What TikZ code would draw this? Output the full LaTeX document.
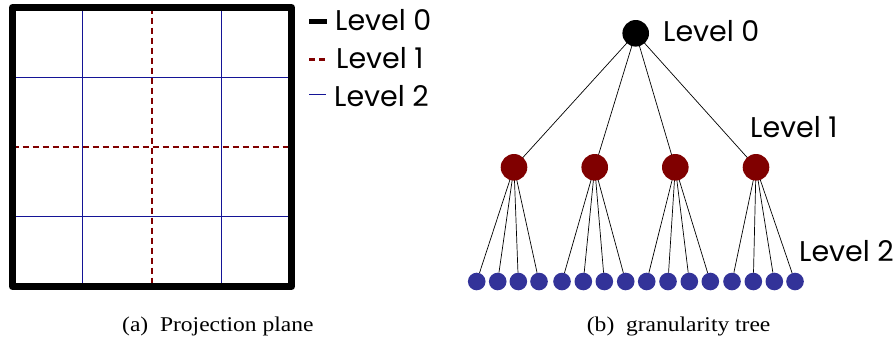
\documentclass[tikz,border=0pt]{standalone}
\usepackage{graphicx}
\usepackage{fontspec}
\setmainfont{Liberation Serif}
\newfontfamily\labelfont{Poppins}
\definecolor{lvlred}{RGB}{128,0,0}
\definecolor{lvlblue}{RGB}{20,20,150}
\definecolor{leafblue}{RGB}{51,51,153}
\newcommand{\captxt}[1]{\scalebox{1.12}[1]{#1}}
\begin{document}
\begin{tikzpicture}[x=1pt,y=-1pt,
  border/.style={line width=7pt,line join=round},
  redgrid/.style={lvlred,line width=2.6pt,dash pattern=on 6pt off 4pt},
  bluegrid/.style={lvlblue,line width=0.9pt},
  lvltext/.style={font=\labelfont\fontsize{28.5}{28.5}\selectfont,anchor=base west,inner sep=0pt},
  captext/.style={font=\fontsize{21}{21}\selectfont,anchor=base west,inner sep=0pt},
  rootnode/.style={circle,fill=black,minimum size=26.6pt,inner sep=0pt},
  midnode/.style={circle,fill=lvlred,minimum size=26.6pt,inner sep=0pt},
  leafnode/.style={circle,fill=leafblue,minimum size=17.6pt,inner sep=0pt},
  edge/.style={black,line width=0.7pt}]
\useasboundingbox (0,0) rectangle (896,338);

% ---- projection plane ----
\foreach \t in {82.25,221.75}{
  \draw[bluegrid] (\t,7.5) -- (\t,286.5);
  \draw[bluegrid] (12.5,\t-5) -- (291.5,\t-5);
}
\draw[redgrid] (152,7.5) -- (152,286.5);
\draw[redgrid] (12.5,147) -- (291.5,147);
\draw[border] (12.5,7.5) rectangle (291.5,286.5);

% ---- legend ----
\coordinate (k0a) at (309,21.3);  \coordinate (k0b) at (327,21.3);
\coordinate (k1a) at (309,59.3);  \coordinate (k1b) at (325,59.3);
\coordinate (k2a) at (309,94.3);  \coordinate (k2b) at (326,94.3);
\draw[line width=5pt] (k0a) -- (k0b);
\draw[lvlred,line width=2.6pt,dash pattern=on 6pt off 4pt] (k1a) -- (k1b);
\draw[lvlblue,line width=0.9pt] (k2a) -- (k2b);
\node[lvltext] (leg0) at (335,30) {Level 0};
\node[lvltext] (leg1) at (336,68.3) {Level 1};
\node[lvltext] (leg2) at (334,106.7) {Level 2};

% ---- granularity tree ----
\foreach \j/\x in {1/476.7,2/497.7,3/518.3,4/539,
                   5/562,6/583.3,7/604.3,8/625.7,
                   9/646.7,10/668,11/689.3,12/710.3,
                   13/732,14/753.3,15/774.3,16/795}{
  \node[leafnode] (l\j) at (\x,281.5) {};
}
\foreach \i/\x in {1/514,2/594.7,3/675.3,4/756}{
  \coordinate (m\i) at (\x,167.3);
}
\coordinate (r) at (635.7,33.3);
% edges first, discs drawn over them
\foreach \i in {1,...,4}{
  \draw[edge] (r) -- (m\i);
  \foreach \k in {1,...,4}{
    \pgfmathtruncatemacro{\j}{4*(\i-1)+\k}
    \draw[edge] (m\i) -- (l\j);
  }
}
\foreach \i in {1,...,4}{
  \node[midnode] (n\i) at (m\i) {};
}
\node[rootnode] (root) at (r) {};

\node[lvltext] (t0) at (663,41.7) {Level 0};
\node[lvltext] (t1) at (750,137.3) {Level 1};
\node[lvltext] (t2) at (799,261.7) {Level 2};

% ---- captions ----
\node[captext] (capa) at (122,331) {\captxt{(a)\enspace Projection plane}};
\node[captext] (capb) at (586.7,331) {\captxt{(b)\enspace granularity tree}};
\end{tikzpicture}
\end{document}
